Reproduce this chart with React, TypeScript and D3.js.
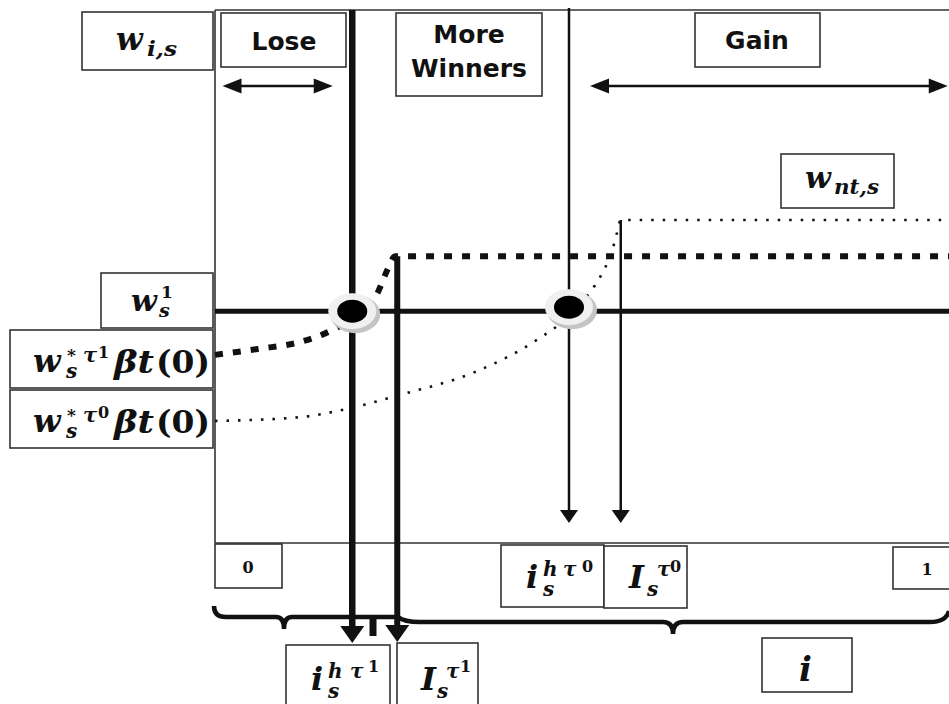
import * as d3 from 'd3';

// thresholds along the share axis i (0..1)
const cutoffNames = ['ih_tau1', 'I_tau1', 'ih_tau0', 'I_tau0'];
const cutoffShares = [0.183, 0.243, 0.472, 0.541];

// wage levels (relative)
const wageNames = ['w_s1', 'w_nt_tau1', 'w_nt_tau0'];
const wageLevels = [0.435, 0.538, 0.606];

// w*_s tau^1 beta t(0) curve, then flat at the new wage
const tau1Curve: [number, number][] = [
  [0, 0.353], [0.057, 0.364], [0.113, 0.377], [0.157, 0.4], [0.183, 0.422],
  [0.216, 0.467], [0.231, 0.516], [0.24, 0.538], [1.0, 0.538],
];
// w*_s tau^0 beta t(0) curve, then flat at w_nt,s
const tau0Curve: [number, number][] = [
  [0, 0.229], [0.113, 0.236], [0.18, 0.253], [0.247, 0.278], [0.347, 0.321],
  [0.429, 0.381], [0.469, 0.422], [0.497, 0.465], [0.517, 0.508], [0.529, 0.546],
  [0.536, 0.582], [0.541, 0.606], [1.0, 0.606],
];

const regionNames = ['Lose', 'More', 'Winners', 'Gain'];
const loseSpan = [0.01, 0.157];
const gainSpan = [0.5, 0.977];
const shareTicks = ['0', '1'];

const W = 949;
const H = 704;
const INK = '#111';
const BOX = '#333';
const MATH = '"DejaVu Serif", serif';
const SANS = '"DejaVu Sans", sans-serif';

// one piece of a formula: text, position, size, optional width, upright glyph
type Piece = { t: string; x: number; y: number; s: number; len?: number; up?: boolean };

const MathLabel = ({ pieces }: { pieces: Piece[] }) => (
  <text fontFamily={MATH} fontWeight="bold" fill={INK}>
    {pieces.map((p, i) => (
      <tspan key={i} x={p.x} y={p.y} fontSize={p.s} fontStyle={p.up ? 'normal' : 'italic'}
        textLength={p.len} lengthAdjust={p.len ? 'spacingAndGlyphs' : undefined}>
        {p.t}
      </tspan>
    ))}
  </text>
);

const Box = ({ x, y, w, h }: { x: number; y: number; w: number; h: number }) => (
  <rect x={x} y={y} width={w} height={h} fill="#fff" stroke={BOX} strokeWidth={1.6} />
);

const downHead = (x: number, tip: number, len: number, half: number) =>
  `M${x},${tip}L${x - half},${tip - len}L${x + half},${tip - len}Z`;

const DoubleArrow = ({ x1, x2, yy }: { x1: number; x2: number; yy: number }) => (
  <g fill={INK} stroke={INK}>
    <line x1={x1 + 10} x2={x2 - 10} y1={yy} y2={yy} strokeWidth={2.5} />
    <path d={`M${x1},${yy}L${x1 + 19},${yy - 7.5}L${x1 + 19},${yy + 7.5}Z`} stroke="none" />
    <path d={`M${x2},${yy}L${x2 - 19},${yy - 7.5}L${x2 - 19},${yy + 7.5}Z`} stroke="none" />
  </g>
);

const Dot = ({ cx, cy }: { cx: number; cy: number }) => (
  <g>
    <ellipse cx={cx + 3} cy={cy + 3} rx={25} ry={19} fill="#c4c4c4" />
    <ellipse cx={cx} cy={cy} rx={24} ry={18} fill="#f0f0f0" />
    <ellipse cx={cx} cy={cy} rx={15} ry={11.5} fill="#000" />
  </g>
);

export default function App() {
  const x = d3.scaleLinear().domain([0, 1]).range([215, 965]);
  const y = d3.scaleLinear().domain([0, 1]).range([543, 10]);
  const line = d3.line<[number, number]>()
    .x(d => x(d[0]))
    .y(d => y(d[1]))
    .curve(d3.curveMonotoneX);

  const [cHt1, cIt1, cHt0, cIt0] = cutoffShares.map(v => x(v));
  const [w1, wT1, wT0] = wageLevels.map(v => y(v));
  const bigTip = 643;
  const thinTip = 523;

  return (
    <svg width={W} height={H} style={{ position: 'absolute', left: 0, top: 0, background: '#fff' }}>
      {/* frame */}
      <g stroke={BOX} strokeWidth={1.6} fill="none">
        <line x1={x(0)} x2={W} y1={y(1)} y2={y(1)} />
        <line x1={x(0)} x2={x(0)} y1={y(1)} y2={y(0)} />
        <line x1={x(0)} x2={W} y1={y(0)} y2={y(0)} />
      </g>

      {/* wage curves */}
      <path d={line(tau0Curve) || ''} fill="none" stroke={INK} strokeWidth={2.6}
        strokeDasharray="2.5 9" />
      <path d={line(tau1Curve) || ''} fill="none" stroke={INK} strokeWidth={6}
        strokeDasharray="8 10" />

      {/* w_s^1 level */}
      <line x1={x(0)} x2={W} y1={w1} y2={w1} stroke={INK} strokeWidth={5} />

      {/* cutoff lines */}
      <g stroke={INK} fill="none">
        <line x1={cHt1} x2={cHt1} y1={y(1)} y2={bigTip - 12} strokeWidth={6.5} />
        <line x1={cIt1} x2={cIt1} y1={wT1} y2={bigTip - 12} strokeWidth={6} />
        <line x1={cHt0} x2={cHt0} y1={8} y2={thinTip - 8} strokeWidth={2.5} />
        <line x1={cIt0} x2={cIt0} y1={wT0} y2={thinTip - 8} strokeWidth={2.5} />
      </g>
      <g fill={INK}>
        <path d={downHead(cHt1, bigTip, 17, 12)} />
        <path d={downHead(cIt1, bigTip - 1, 17, 12)} />
        <path d={downHead(cHt0, thinTip, 13, 9)} />
        <path d={downHead(cIt0, thinTip, 13, 9)} />
      </g>

      {/* intersections */}
      <Dot cx={cHt1} cy={w1} />
      <Dot cx={cHt0} cy={w1 - 4} />

      {/* braces */}
      <path d={`M214,606Q214,617 226,617L276,617Q284,617 284,629Q284,617 292,617L398,617Q404,622 420,622L663,622Q673,622 673,634Q673,622 683,622L930,622Q946,622 949,611`}
        fill="none" stroke={INK} strokeWidth={4.5} />
      <line x1={373} x2={373} y1={617} y2={636} stroke={INK} strokeWidth={7} />

      {/* region labels */}
      <DoubleArrow x1={x(loseSpan[0])} x2={x(loseSpan[1])} yy={86} />
      <DoubleArrow x1={x(gainSpan[0])} x2={x(gainSpan[1])} yy={86} />
      <Box x={221} y={13} w={125} h={54} />
      <Box x={396} y={13} w={146} h={83} />
      <Box x={695} y={13} w={125} h={54} />
      <g fontFamily={SANS} fontWeight="bold" fontSize={25} fill={INK} textAnchor="middle">
        <text x={284} y={50}>{regionNames[0]}</text>
        <text x={469} y={43}>{regionNames[1]}</text>
        <text x={469} y={77}>{regionNames[2]}</text>
        <text x={757} y={49}>{regionNames[3]}</text>
      </g>

      {/* w_{i,s} */}
      <Box x={82} y={12} w={131} h={58} />
      <MathLabel pieces={[
        { t: 'w', x: 116, y: 50, s: 31 },
        { t: 'i,s', x: 147, y: 56, s: 21, len: 30 },
      ]} />

      {/* w_s^1 */}
      <Box x={101} y={273} w={112} h={55} />
      <MathLabel pieces={[
        { t: 'w', x: 131, y: 311, s: 30 },
        { t: 's', x: 159, y: 317, s: 19 },
        { t: '1', x: 161, y: 298, s: 17, up: true },
      ]} />

      {/* w*_s tau^1 beta t(0) */}
      <Box x={10} y={330} w={203} h={58} />
      <MathLabel pieces={[
        { t: 'w', x: 33, y: 372, s: 32 },
        { t: 's', x: 66, y: 378, s: 20 },
        { t: '*', x: 67, y: 361, s: 17, up: true },
        { t: 'τ', x: 83, y: 362, s: 21 },
        { t: '1', x: 98, y: 358, s: 16, up: true },
        { t: 'βt', x: 114, y: 373, s: 32, len: 40 },
        { t: '(0)', x: 156, y: 373, s: 32, len: 54, up: true },
      ]} />

      {/* w*_s tau^0 beta t(0) */}
      <Box x={10} y={390} w={203} h={58} />
      <MathLabel pieces={[
        { t: 'w', x: 33, y: 432, s: 32 },
        { t: 's', x: 66, y: 438, s: 20 },
        { t: '*', x: 67, y: 421, s: 17, up: true },
        { t: 'τ', x: 83, y: 422, s: 21 },
        { t: '0', x: 98, y: 418, s: 16, up: true },
        { t: 'βt', x: 114, y: 433, s: 32, len: 40 },
        { t: '(0)', x: 156, y: 433, s: 32, len: 54, up: true },
      ]} />

      {/* w_{nt,s} */}
      <Box x={781} y={154} w={113} h={54} />
      <MathLabel pieces={[
        { t: 'w', x: 805, y: 188, s: 30 },
        { t: 'nt,s', x: 834, y: 194, s: 20, len: 45 },
      ]} />

      {/* axis ticks */}
      <Box x={215} y={544} w={67} h={44} />
      <Box x={893} y={547} w={60} h={42} />
      <g fontFamily={MATH} fontWeight="bold" fontSize={16} fill={INK} textAnchor="middle">
        <text x={248} y={573}>{shareTicks[0]}</text>
        <text x={927} y={575}>{shareTicks[1]}</text>
      </g>

      {/* i_s^{h tau0}, I_s^{tau0} */}
      <Box x={501} y={545} w={103} h={62} />
      <MathLabel pieces={[
        { t: 'i', x: 526, y: 588, s: 32 },
        { t: 'h', x: 543, y: 576, s: 20 },
        { t: 's', x: 543, y: 596, s: 20 },
        { t: 'τ', x: 563, y: 576, s: 20 },
        { t: '0', x: 582, y: 572, s: 16, up: true },
      ]} />
      <Box x={604} y={546} w={83} h={62} />
      <MathLabel pieces={[
        { t: 'I', x: 629, y: 588, s: 32 },
        { t: 's', x: 647, y: 596, s: 20 },
        { t: 'τ', x: 657, y: 576, s: 20 },
        { t: '0', x: 670, y: 572, s: 16, up: true },
      ]} />

      {/* i_s^{h tau1}, I_s^{tau1} */}
      <Box x={286} y={645} w={104} h={64} />
      <MathLabel pieces={[
        { t: 'i', x: 311, y: 690, s: 32 },
        { t: 'h', x: 328, y: 678, s: 20 },
        { t: 's', x: 328, y: 698, s: 20 },
        { t: 'τ', x: 350, y: 678, s: 20 },
        { t: '1', x: 368, y: 672, s: 16, up: true },
      ]} />
      <Box x={397} y={643} w={81} h={66} />
      <MathLabel pieces={[
        { t: 'I', x: 421, y: 690, s: 32 },
        { t: 's', x: 437, y: 698, s: 20 },
        { t: 'τ', x: 446, y: 678, s: 20 },
        { t: '1', x: 460, y: 672, s: 16, up: true },
      ]} />

      {/* i */}
      <Box x={762} y={638} w={90} h={54} />
      <MathLabel pieces={[{ t: 'i', x: 799, y: 681, s: 34 }]} />
    </svg>
  );
}
